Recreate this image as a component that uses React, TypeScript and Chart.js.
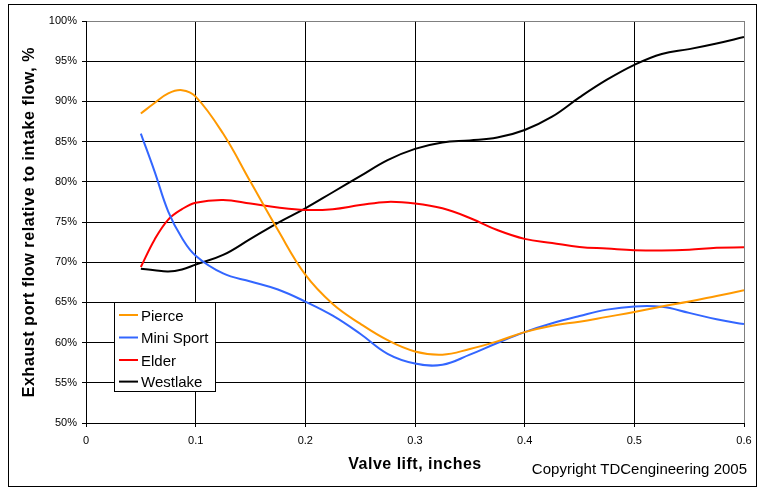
import React, { useEffect, useRef } from "react";
import { Chart, registerables } from "chart.js";

Chart.register(...registerables);

const liftInches = [0.05, 0.0625, 0.075, 0.0875, 0.1, 0.125, 0.15, 0.175, 0.2, 0.225, 0.25, 0.275, 0.3, 0.325, 0.35, 0.375, 0.4, 0.425, 0.45, 0.475, 0.5, 0.525, 0.55, 0.575, 0.6];

const pierce = [88.5, 89.8, 91.0, 91.4, 90.6, 86.0, 80.0, 74.0, 68.45, 64.8, 62.35, 60.3, 58.9, 58.5, 59.2, 60.15, 61.3, 62.1, 62.6, 63.2, 63.8, 64.5, 65.1, 65.8, 66.5];
const miniSport = [86.0, 81.3, 76.3, 73.0, 70.8, 68.6, 67.6, 66.6, 65.1, 63.35, 61.1, 58.6, 57.4, 57.25, 58.5, 59.95, 61.3, 62.4, 63.3, 64.1, 64.5, 64.45, 63.7, 62.9, 62.3];
const elder = [69.4, 72.8, 75.3, 76.6, 77.4, 77.75, 77.3, 76.8, 76.5, 76.6, 77.1, 77.5, 77.3, 76.7, 75.5, 74.0, 72.9, 72.4, 71.9, 71.7, 71.5, 71.45, 71.55, 71.8, 71.85];
const westlake = [69.2, 69.0, 68.85, 69.1, 69.7, 70.9, 72.9, 74.9, 76.7, 78.7, 80.7, 82.7, 84.1, 84.9, 85.15, 85.5, 86.45, 88.1, 90.5, 92.7, 94.55, 95.9, 96.5, 97.2, 98.0];

const seriesNames = ["Pierce", "Mini Sport", "Elder", "Westlake"];
const seriesColors = ["#FF9900", "#3366FF", "#FF0000", "#000000"];

const xTickValues = [0, 0.1, 0.2, 0.3, 0.4, 0.5, 0.6];
const xTickLabels = ["0", "0.1", "0.2", "0.3", "0.4", "0.5", "0.6"];
const yTickValues = [50, 55, 60, 65, 70, 75, 80, 85, 90, 95, 100];
const yTickLabels = ["50%", "55%", "60%", "65%", "70%", "75%", "80%", "85%", "90%", "95%", "100%"];

const yTitle = "Exhaust port flow relative to intake flow, %";
const xTitle = "Valve lift, inches";
const copyright = "Copyright TDCengineering 2005";

const FONT = "Arial, 'Liberation Sans', sans-serif";

const decorPlugin = {
  id: "decor",
  afterDraw(chart: any) {
    const ctx = chart.ctx;
    const area = chart.chartArea;
    ctx.save();
    // outer border
    ctx.strokeStyle = "#000";
    ctx.lineWidth = 1;
    ctx.strokeRect(8.5, 4.5, 748, 482);

    // y title
    ctx.save();
    ctx.fillStyle = "#000";
    ctx.font = `bold 16px ${FONT}`;
    try { (ctx as any).letterSpacing = "0.6px"; } catch (e) {}
    ctx.textAlign = "center";
    ctx.textBaseline = "alphabetic";
    ctx.translate(34, (area.top + area.bottom) / 2);
    ctx.rotate(-Math.PI / 2);
    ctx.fillText(yTitle, 0, 0);
    ctx.restore();

    // x title
    ctx.save();
    ctx.fillStyle = "#000";
    ctx.font = `bold 16px ${FONT}`;
    try { (ctx as any).letterSpacing = "0.5px"; } catch (e) {}
    ctx.textAlign = "center";
    ctx.textBaseline = "alphabetic";
    ctx.fillText(xTitle, (area.left + area.right) / 2, 469);
    ctx.restore();

    // copyright
    ctx.save();
    ctx.fillStyle = "#000";
    ctx.font = `15px ${FONT}`;
    ctx.textAlign = "right";
    ctx.textBaseline = "alphabetic";
    ctx.fillText(copyright, 747, 474);
    ctx.restore();

    // legend
    const lx = 114.5, ly = 302.5, lw = 101, lh = 89;
    ctx.fillStyle = "#fff";
    ctx.fillRect(lx, ly, lw, lh);
    ctx.strokeStyle = "#000";
    ctx.lineWidth = 1;
    ctx.strokeRect(lx, ly, lw, lh);
    const baselines = [320.7, 343.2, 365.7, 387.3];
    chart.data.datasets.forEach((ds: any, i: number) => {
      const by = baselines[i];
      ctx.strokeStyle = ds.borderColor;
      ctx.lineWidth = 2;
      ctx.beginPath();
      ctx.moveTo(119, by - 5.7);
      ctx.lineTo(138, by - 5.7);
      ctx.stroke();
      ctx.fillStyle = "#000";
      ctx.font = `15px ${FONT}`;
      ctx.textAlign = "left";
      ctx.textBaseline = "alphabetic";
      ctx.fillText(ds.label, 141, by);
    });
    ctx.restore();
  },
};

export default function App() {
  const ref = useRef<HTMLCanvasElement | null>(null);
  useEffect(() => {
    if (!ref.current) return;
    const seriesValues = [pierce, miniSport, elder, westlake];
    const chart = new Chart(ref.current, {
      type: "line",
      data: {
        datasets: seriesValues.map((vals, i) => ({
          label: seriesNames[i],
          data: vals.map((v, j) => ({ x: liftInches[j], y: v })),
          borderColor: seriesColors[i],
          backgroundColor: seriesColors[i],
          borderWidth: 2,
          pointRadius: 0,
          tension: 0.4,
          fill: false,
        })),
      },
      options: {
        animation: false,
        responsive: false,
        devicePixelRatio: 1,
        layout: { padding: { left: 0, top: 21, right: 22, bottom: 0 } },
        plugins: { legend: { display: false }, tooltip: { enabled: false }, title: { display: false } },
        scales: {
          x: {
            type: "linear",
            min: 0,
            max: 0.6,
            afterBuildTicks: (scale: any) => {
              scale.ticks = xTickValues.map((v) => ({ value: v }));
            },
            afterFit: (scale: any) => {
              scale.height = 67;
            },
            ticks: {
              color: "#000",
              font: { family: FONT, size: 11 },
              padding: 7,
              maxRotation: 0,
              autoSkip: false,
              callback: (_v: any, i: number) => xTickLabels[i],
            },
            grid: {
              color: (c: any) => (c.tick && c.tick.value === 0.6 ? "#808080" : "#000"),
              tickColor: "#000",
              tickLength: 4,
              lineWidth: 1,
            },
            border: { display: true, color: "#000", width: 1 },
          },
          y: {
            type: "linear",
            min: 50,
            max: 100,
            afterBuildTicks: (scale: any) => {
              scale.ticks = yTickValues.map((v) => ({ value: v }));
            },
            afterFit: (scale: any) => {
              scale.width = 86;
            },
            ticks: {
              color: "#000",
              font: { family: FONT, size: 11 },
              padding: 5,
              autoSkip: false,
              callback: (_v: any, i: number) => yTickLabels[i],
            },
            grid: {
              color: (c: any) => (c.tick && c.tick.value === 100 ? "#808080" : "#000"),
              tickColor: "#000",
              tickLength: 4,
              lineWidth: 1,
            },
            border: { display: true, color: "#000", width: 1 },
          },
        },
      },
      plugins: [decorPlugin],
    } as any);
    return () => chart.destroy();
  }, []);
  return (
    <div style={{ position: "absolute", left: 0, top: 0, width: 766, height: 490, background: "#fff" }}>
      <canvas ref={ref} width={766} height={490} style={{ width: 766, height: 490, display: "block" }} />
    </div>
  );
}
